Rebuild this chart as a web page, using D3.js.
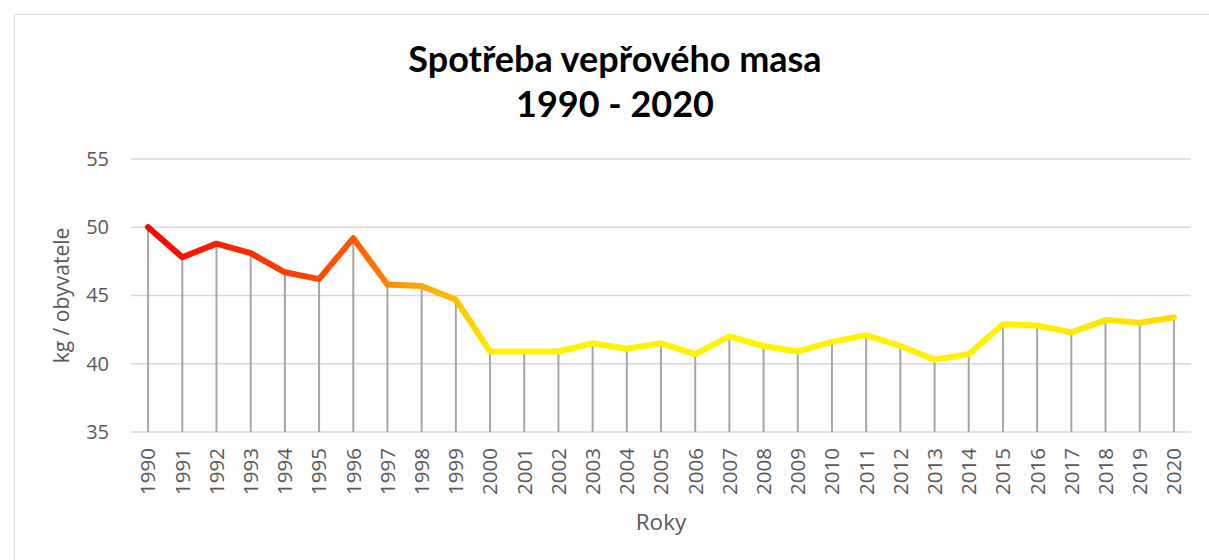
<!DOCTYPE html>
<html>
<head>
<meta charset="utf-8">
<script src="https://cdn.jsdelivr.net/npm/d3@7"></script>
<style>
  html, body { margin: 0; padding: 0; background: #fff; }
  #canvas { width: 1209px; height: 560px; }
</style>
</head>
<body>
<div id="canvas"></div>
<script>
const years = d3.range(1990, 2021).map(String);
const consumption = [
  50.0, 47.8, 48.8, 48.1, 46.7, 46.2, 49.2, 45.8, 45.7, 44.7,
  40.9, 40.9, 40.9, 41.5, 41.1, 41.5, 40.7, 42.0, 41.3, 40.9,
  41.6, 42.1, 41.3, 40.3, 40.7, 42.9, 42.8, 42.3, 43.2, 43.0, 43.4
];
const y_ticks = [35, 40, 45, 50, 55];
const title_lines = ['Spotřeba vepřového masa', '1990 - 2020'];

const width = 1209, height = 560;
const margin = { left: 131, right: 18, top: 159, bottom: 128 };
const font = '"Open Sans", sans-serif';
const title_font = 'Lato, "Open Sans", sans-serif';

let svg = d3.select('#canvas')
  .append('svg')
  .attr('width', width)
  .attr('height', height)
  .style('font-family', font);

// chart frame
svg.append('rect')
  .attr('x', 14.5).attr('y', 14.5)
  .attr('width', width).attr('height', height)
  .attr('fill', '#fff')
  .attr('stroke', '#d9d9d9');

const x = d3.scaleBand()
  .domain(years)
  .range([margin.left, width - margin.right]);

const y = d3.scaleLinear()
  .domain([35, 55])
  .range([height - margin.bottom, margin.top]);

// grid
svg.append('g')
  .selectAll('line')
  .data(y_ticks)
  .join('line')
  .attr('x1', margin.left)
  .attr('x2', width - margin.right)
  .attr('y1', (d) => y(d))
  .attr('y2', (d) => y(d))
  .attr('stroke', '#d9d9d9')
  .attr('stroke-width', 1.3);

// y axis labels
const yAxis = svg.append('g')
  .attr('transform', `translate(${margin.left - 22},0)`)
  .call(d3.axisLeft(y).tickValues(y_ticks).tickSize(0).tickPadding(0));
yAxis.select('.domain').remove();
yAxis.selectAll('text')
  .attr('fill', '#595959')
  .style('font-size', '20px')
  .style('font-family', font);

// x axis labels
const xAxis = svg.append('g')
  .attr('transform', `translate(0,${height - margin.bottom})`)
  .call(d3.axisBottom(x).tickSize(0).tickPadding(0));
xAxis.select('.domain').remove();
xAxis.selectAll('text')
  .attr('fill', '#595959')
  .style('font-size', '20.5px')
  .style('font-family', font)
  .attr('text-anchor', 'end')
  .attr('dy', '0.36em')
  .attr('transform', 'translate(0,16) rotate(-90)');

// drop lines
svg.append('g')
  .selectAll('line')
  .data(consumption)
  .join('line')
  .attr('x1', (d, i) => x(years[i]) + x.bandwidth() / 2)
  .attr('x2', (d, i) => x(years[i]) + x.bandwidth() / 2)
  .attr('y1', (d) => y(d))
  .attr('y2', y(35))
  .attr('stroke', '#a6a6a6')
  .attr('stroke-width', 2);

// gradient along the line
const grad = svg.append('defs').append('linearGradient')
  .attr('id', 'line-grad')
  .attr('gradientUnits', 'userSpaceOnUse')
  .attr('x1', x(years[0]) + x.bandwidth() / 2).attr('y1', 0)
  .attr('x2', x(years[30]) + x.bandwidth() / 2).attr('y2', 0);
grad.selectAll('stop')
  .data([
    [0, '#ff0000'], [0.2, '#ff5a00'], [0.25, '#ff9c00'], [0.3, '#ffc000'],
    [0.34, '#fff500'], [0.85, '#fff200'], [1, '#ffdc00']
  ])
  .join('stop')
  .attr('offset', (d) => d[0])
  .attr('stop-color', (d) => d[1]);

const line = d3.line()
  .x((d, i) => x(years[i]) + x.bandwidth() / 2)
  .y((d) => y(d));

svg.append('path')
  .datum(consumption)
  .attr('d', line)
  .attr('fill', 'none')
  .attr('stroke', 'url(#line-grad)')
  .attr('stroke-width', 6)
  .attr('stroke-linejoin', 'round')
  .attr('stroke-linecap', 'round');

// titles
svg.append('g')
  .selectAll('text')
  .data(title_lines)
  .join('text')
  .attr('x', 615)
  .attr('y', (d, i) => 72 + i * 45)
  .attr('text-anchor', 'middle')
  .attr('font-weight', 'bold')
  .style('font-family', title_font)
  .style('font-size', '36px')
  .attr('fill', '#000')
  .text((d) => d);

svg.append('text')
  .attr('x', x(years[15]) + x.bandwidth() / 2)
  .attr('y', 530)
  .attr('text-anchor', 'middle')
  .attr('fill', '#595959')
  .style('font-size', '22.5px')
  .text('Roky');

svg.append('text')
  .attr('transform', `translate(69,${y(45)}) rotate(-90)`)
  .attr('text-anchor', 'middle')
  .attr('fill', '#595959')
  .style('font-size', '21px')
  .text('kg / obyvatele');
</script>
</body>
</html>
